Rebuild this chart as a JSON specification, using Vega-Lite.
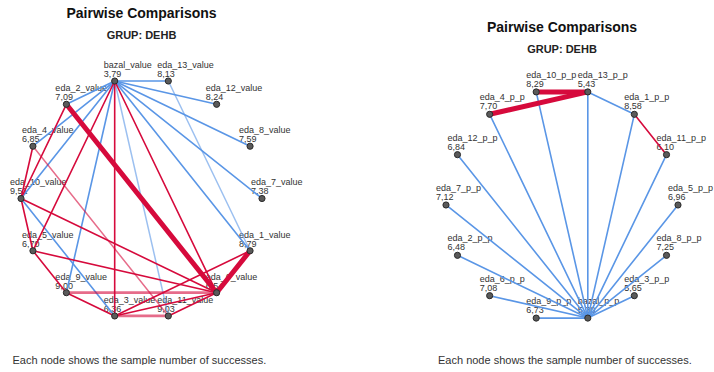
{
  "$schema": "https://vega.github.io/schema/vega-lite/v6.json",
  "padding": {"top": 6, "left": 0, "right": 0, "bottom": 0},
  "background": "white",
  "bounds": "flush",
  "spacing": 137.5,
  "config": {"view": {"stroke": null}, "font": "Liberation Sans", "concat": {"spacing": 137.5}},
  "datasets": {
    "nodesL": [
      {"id": "bazal_value", "value": "3,79", "x": -0.2225, "y": 0.9749},
      {"id": "eda_13_value", "value": "8,13", "x": 0.2225, "y": 0.9749},
      {"id": "eda_12_value", "value": "8,24", "x": 0.6235, "y": 0.7818},
      {"id": "eda_8_value", "value": "7,59", "x": 0.901, "y": 0.4339},
      {"id": "eda_7_value", "value": "7,38", "x": 1, "y": 0},
      {"id": "eda_1_value", "value": "8,79", "x": 0.901, "y": -0.4339},
      {"id": "eda_6_value", "value": "6,54", "x": 0.6235, "y": -0.7818},
      {"id": "eda_11_value", "value": "9,03", "x": 0.2225, "y": -0.9749},
      {"id": "eda_3_value", "value": "6,36", "x": -0.2225, "y": -0.9749},
      {"id": "eda_9_value", "value": "9,00", "x": -0.6235, "y": -0.7818},
      {"id": "eda_5_value", "value": "6,70", "x": -0.901, "y": -0.4339},
      {"id": "eda_10_value", "value": "9,51", "x": -1, "y": 0},
      {"id": "eda_4_value", "value": "6,85", "x": -0.901, "y": 0.4339},
      {"id": "eda_2_value", "value": "7,09", "x": -0.6235, "y": 0.7818}
    ],
    "edgesL": [
      {"a": "bazal_value", "b": "eda_13_value", "group": "ns", "strength": 2},
      {"a": "bazal_value", "b": "eda_12_value", "group": "ns", "strength": 2},
      {"a": "bazal_value", "b": "eda_8_value", "group": "ns", "strength": 2},
      {"a": "bazal_value", "b": "eda_7_value", "group": "ns", "strength": 2},
      {"a": "bazal_value", "b": "eda_1_value", "group": "ns", "strength": 2},
      {"a": "bazal_value", "b": "eda_2_value", "group": "ns", "strength": 2},
      {"a": "bazal_value", "b": "eda_4_value", "group": "ns", "strength": 2},
      {"a": "bazal_value", "b": "eda_10_value", "group": "ns", "strength": 2},
      {"a": "bazal_value", "b": "eda_9_value", "group": "ns", "strength": 2},
      {"a": "bazal_value", "b": "eda_11_value", "group": "ns", "strength": 1},
      {"a": "eda_13_value", "b": "eda_1_value", "group": "ns", "strength": 1},
      {"a": "eda_10_value", "b": "eda_3_value", "group": "ns", "strength": 2},
      {"a": "eda_4_value", "b": "eda_11_value", "group": "sig", "strength": 1},
      {"a": "eda_9_value", "b": "eda_6_value", "group": "sig", "strength": 3},
      {"a": "eda_3_value", "b": "eda_11_value", "group": "sig", "strength": 3},
      {"a": "bazal_value", "b": "eda_3_value", "group": "sig", "strength": 2},
      {"a": "bazal_value", "b": "eda_5_value", "group": "sig", "strength": 2},
      {"a": "bazal_value", "b": "eda_6_value", "group": "sig", "strength": 2},
      {"a": "eda_2_value", "b": "eda_10_value", "group": "sig", "strength": 2},
      {"a": "eda_4_value", "b": "eda_10_value", "group": "sig", "strength": 2},
      {"a": "eda_10_value", "b": "eda_5_value", "group": "sig", "strength": 2},
      {"a": "eda_10_value", "b": "eda_6_value", "group": "sig", "strength": 2},
      {"a": "eda_5_value", "b": "eda_9_value", "group": "sig", "strength": 2},
      {"a": "eda_5_value", "b": "eda_6_value", "group": "sig", "strength": 2},
      {"a": "eda_9_value", "b": "eda_3_value", "group": "sig", "strength": 2},
      {"a": "eda_3_value", "b": "eda_6_value", "group": "sig", "strength": 2},
      {"a": "eda_3_value", "b": "eda_1_value", "group": "sig", "strength": 2},
      {"a": "eda_11_value", "b": "eda_6_value", "group": "sig", "strength": 2},
      {"a": "eda_2_value", "b": "eda_6_value", "group": "sig", "strength": 4},
      {"a": "eda_6_value", "b": "eda_1_value", "group": "sig", "strength": 4}
    ],
    "nodesR": [
      {"id": "eda_10_p_p", "value": "8,29", "x": -0.2225, "y": 0.9749},
      {"id": "eda_13_p_p", "value": "5,43", "x": 0.2225, "y": 0.9749},
      {"id": "eda_1_p_p", "value": "8,58", "x": 0.6235, "y": 0.7818},
      {"id": "eda_11_p_p", "value": "6,10", "x": 0.901, "y": 0.4339},
      {"id": "eda_5_p_p", "value": "6,96", "x": 1, "y": 0},
      {"id": "eda_8_p_p", "value": "7,25", "x": 0.901, "y": -0.4339},
      {"id": "eda_3_p_p", "value": "5,65", "x": 0.6235, "y": -0.7818},
      {"id": "bazal_p_p", "value": "5,30", "x": 0.2225, "y": -0.9749},
      {"id": "eda_9_p_p", "value": "6,73", "x": -0.2225, "y": -0.9749},
      {"id": "eda_6_p_p", "value": "7,08", "x": -0.6235, "y": -0.7818},
      {"id": "eda_2_p_p", "value": "6,48", "x": -0.901, "y": -0.4339},
      {"id": "eda_7_p_p", "value": "7,12", "x": -1, "y": 0},
      {"id": "eda_12_p_p", "value": "6,84", "x": -0.901, "y": 0.4339},
      {"id": "eda_4_p_p", "value": "7,70", "x": -0.6235, "y": 0.7818}
    ],
    "edgesR": [
      {"a": "bazal_p_p", "b": "eda_10_p_p", "group": "ns", "strength": 2},
      {"a": "bazal_p_p", "b": "eda_13_p_p", "group": "ns", "strength": 2},
      {"a": "bazal_p_p", "b": "eda_1_p_p", "group": "ns", "strength": 2},
      {"a": "bazal_p_p", "b": "eda_11_p_p", "group": "ns", "strength": 2},
      {"a": "bazal_p_p", "b": "eda_5_p_p", "group": "ns", "strength": 2},
      {"a": "bazal_p_p", "b": "eda_8_p_p", "group": "ns", "strength": 2},
      {"a": "bazal_p_p", "b": "eda_3_p_p", "group": "ns", "strength": 2},
      {"a": "bazal_p_p", "b": "eda_9_p_p", "group": "ns", "strength": 2},
      {"a": "bazal_p_p", "b": "eda_6_p_p", "group": "ns", "strength": 2},
      {"a": "bazal_p_p", "b": "eda_2_p_p", "group": "ns", "strength": 2},
      {"a": "bazal_p_p", "b": "eda_7_p_p", "group": "ns", "strength": 2},
      {"a": "bazal_p_p", "b": "eda_12_p_p", "group": "ns", "strength": 2},
      {"a": "bazal_p_p", "b": "eda_4_p_p", "group": "ns", "strength": 2},
      {"a": "eda_13_p_p", "b": "eda_1_p_p", "group": "ns", "strength": 2},
      {"a": "eda_1_p_p", "b": "eda_11_p_p", "group": "sig", "strength": 2},
      {"a": "eda_10_p_p", "b": "eda_13_p_p", "group": "sig", "strength": 4},
      {"a": "eda_4_p_p", "b": "eda_13_p_p", "group": "sig", "strength": 4}
    ]
  },
  "hconcat": [
    {
      "width": 283,
      "height": 289,
      "title": {"text": "Pairwise Comparisons", "subtitle": "GRUP: DEHB", "fontSize": 14, "fontWeight": "bold", "color": "#111", "subtitleFontSize": 11, "subtitleFontWeight": "bold", "subtitleColor": "#222", "subtitlePadding": 9, "anchor": "middle", "frame": "group", "offset": 19.5},
      "layer": [
        {
          "data": {"name": "nodesL"},
          "mark": {"type": "text", "align": "left", "baseline": "middle", "dx": -11, "dy": -16, "fontSize": 9, "color": "#333"},
          "encoding": {
            "x": {"field": "x", "type": "quantitative", "scale": {"domain": [-1.1743, 1.1743], "nice": false, "zero": false}, "axis": {"title": "Each node shows the sample number of successes.", "domain": false, "ticks": false, "labels": false, "grid": false, "titleFontSize": 11, "titleFontWeight": "normal", "titleColor": "#333", "titleAnchor": "start", "titleAlign": "left", "titleX": 12, "titleY": 5, "titleBaseline": "top"}},
            "y": {"field": "y", "type": "quantitative", "scale": {"domain": [-1.249, 1.1494], "nice": false, "zero": false}, "axis": null},
            "text": {"field": "id"}
          }
        },
        {
          "data": {"name": "nodesL"},
          "mark": {"type": "text", "align": "left", "baseline": "middle", "dx": -11, "dy": -7, "fontSize": 9, "color": "#333"},
          "encoding": {
            "x": {"field": "x", "type": "quantitative"},
            "y": {"field": "y", "type": "quantitative"},
            "text": {"field": "value"}
          }
        },
        {
          "data": {"name": "edgesL"},
          "transform": [
            {"lookup": "a", "from": {"data": {"name": "nodesL"}, "key": "id", "fields": ["x", "y"]}, "as": ["x1", "y1"]},
            {"lookup": "b", "from": {"data": {"name": "nodesL"}, "key": "id", "fields": ["x", "y"]}, "as": ["x2", "y2"]}
          ],
          "mark": {"type": "rule", "strokeCap": "round"},
          "encoding": {
            "x": {"field": "x1", "type": "quantitative"},
            "y": {"field": "y1", "type": "quantitative"},
            "x2": {"field": "x2"},
            "y2": {"field": "y2"},
            "color": {"field": "group", "type": "nominal", "scale": {"domain": ["ns", "sig"], "range": ["#5a96e6", "#d60a3c"]}, "legend": null},
            "strokeWidth": {"field": "strength", "type": "ordinal", "scale": {"type": "ordinal", "domain": [1, 2, 3, 4], "range": [1.5, 1.6, 2.8, 5]}, "legend": null},
            "opacity": {"field": "strength", "type": "ordinal", "scale": {"type": "ordinal", "domain": [1, 2, 3, 4], "range": [0.6, 1, 0.6, 1]}, "legend": null}
          }
        },
        {
          "data": {"name": "nodesL"},
          "mark": {"type": "point", "shape": "circle", "filled": true, "size": 38, "color": "#5a5a5a", "stroke": "#2a2a2a", "strokeWidth": 1, "opacity": 1},
          "encoding": {
            "x": {"field": "x", "type": "quantitative"},
            "y": {"field": "y", "type": "quantitative"}
          }
        }
      ]
    },
    {
      "width": 283,
      "height": 289,
      "title": {"text": "Pairwise Comparisons", "subtitle": "GRUP: DEHB", "fontSize": 14, "fontWeight": "bold", "color": "#111", "subtitleFontSize": 11, "subtitleFontWeight": "bold", "subtitleColor": "#222", "subtitlePadding": 9, "anchor": "middle", "frame": "group", "offset": 5.5},
      "layer": [
        {
          "data": {"name": "nodesR"},
          "mark": {"type": "text", "align": "left", "baseline": "middle", "dx": -10, "dy": -17, "fontSize": 9, "color": "#333"},
          "encoding": {
            "x": {"field": "x", "type": "quantitative", "scale": {"domain": [-1.2198, 1.2198], "nice": false, "zero": false}, "axis": {"title": "Each node shows the sample number of successes.", "domain": false, "ticks": false, "labels": false, "grid": false, "titleFontSize": 11, "titleFontWeight": "normal", "titleColor": "#333", "titleAnchor": "start", "titleAlign": "left", "titleX": 17, "titleY": 5, "titleBaseline": "top"}},
            "y": {"field": "y", "type": "quantitative", "scale": {"domain": [-1.2414, 1.25], "nice": false, "zero": false}, "axis": null},
            "text": {"field": "id"}
          }
        },
        {
          "data": {"name": "nodesR"},
          "mark": {"type": "text", "align": "left", "baseline": "middle", "dx": -10, "dy": -8, "fontSize": 9, "color": "#333"},
          "encoding": {
            "x": {"field": "x", "type": "quantitative"},
            "y": {"field": "y", "type": "quantitative"},
            "text": {"field": "value"}
          }
        },
        {
          "data": {"name": "edgesR"},
          "transform": [
            {"lookup": "a", "from": {"data": {"name": "nodesR"}, "key": "id", "fields": ["x", "y"]}, "as": ["x1", "y1"]},
            {"lookup": "b", "from": {"data": {"name": "nodesR"}, "key": "id", "fields": ["x", "y"]}, "as": ["x2", "y2"]}
          ],
          "mark": {"type": "rule", "strokeCap": "round"},
          "encoding": {
            "x": {"field": "x1", "type": "quantitative"},
            "y": {"field": "y1", "type": "quantitative"},
            "x2": {"field": "x2"},
            "y2": {"field": "y2"},
            "color": {"field": "group", "type": "nominal", "scale": {"domain": ["ns", "sig"], "range": ["#5a96e6", "#d60a3c"]}, "legend": null},
            "strokeWidth": {"field": "strength", "type": "ordinal", "scale": {"type": "ordinal", "domain": [1, 2, 3, 4], "range": [1.5, 1.6, 2.8, 5]}, "legend": null},
            "opacity": {"field": "strength", "type": "ordinal", "scale": {"type": "ordinal", "domain": [1, 2, 3, 4], "range": [0.6, 1, 0.6, 1]}, "legend": null}
          }
        },
        {
          "data": {"name": "nodesR"},
          "mark": {"type": "point", "shape": "circle", "filled": true, "size": 38, "color": "#5a5a5a", "stroke": "#2a2a2a", "strokeWidth": 1, "opacity": 1},
          "encoding": {
            "x": {"field": "x", "type": "quantitative"},
            "y": {"field": "y", "type": "quantitative"}
          }
        }
      ]
    }
  ]
}
